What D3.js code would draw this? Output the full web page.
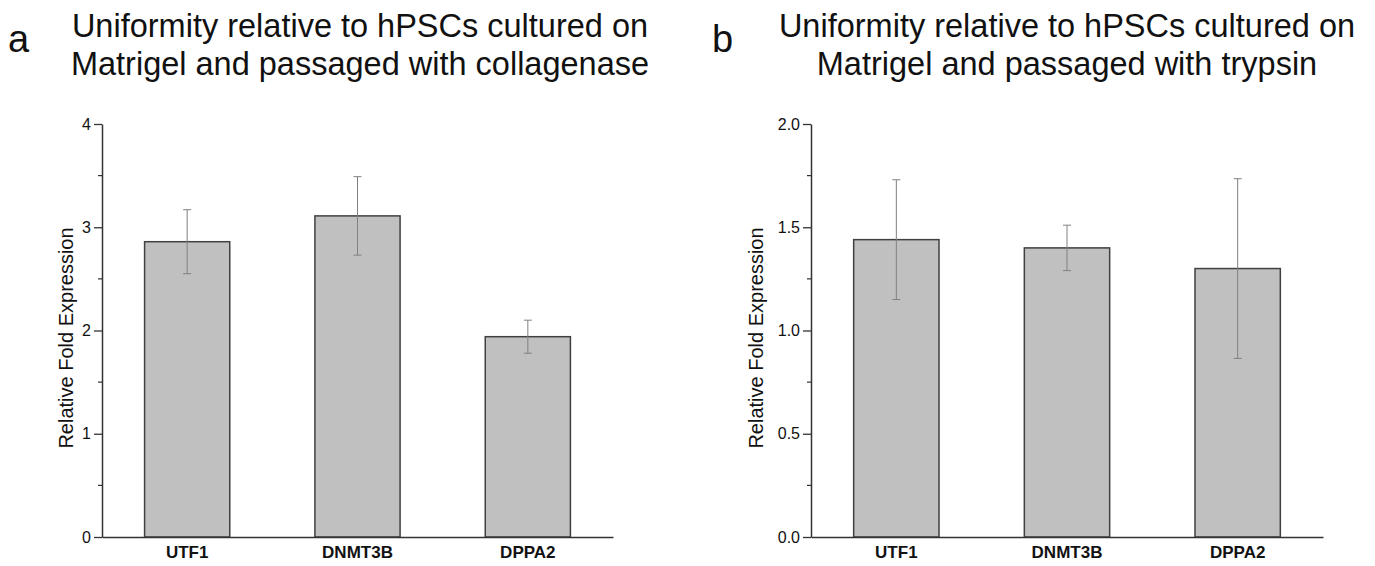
<!DOCTYPE html>
<html>
<head>
<meta charset="utf-8">
<script src="https://cdn.jsdelivr.net/npm/d3@7"></script>
<style>
  body { margin: 0; background: #fff; }
  text { font-family: "Liberation Sans", Arial, sans-serif; }
</style>
</head>
<body>
<div id="canvas"></div>
<script>
// data
var genes = ["UTF1", "DNMT3B", "DPPA2"];
var meanA = [2.86, 3.11, 1.94];
var errA = [0.31, 0.38, 0.16];
var meanB = [1.44, 1.40, 1.30];
var errB = [0.29, 0.11, 0.435];
var ticksA = [0, 1, 2, 3, 4];
var minorA = [0.5, 1.5, 2.5, 3.5];
var ticksB = [0, 0.5, 1.0, 1.5, 2.0];
var minorB = [0.25, 0.75, 1.25, 1.75];
var titleA = ["Uniformity relative to hPSCs cultured on", "Matrigel and passaged with collagenase"];
var titleB = ["Uniformity relative to hPSCs cultured on", "Matrigel and passaged with trypsin"];

var svg = d3.select("#canvas").append("svg")
    .attr("width", 1375).attr("height", 566);

function panel(opt) {
    var x = d3.scaleBand().domain(genes).range([opt.left, opt.right])
        .paddingInner(0.5).paddingOuter(0.25);
    var y = d3.scaleLinear().domain([0, opt.max]).range([537, 124]);
    var g = svg.append("g");

    // panel letter + title
    g.append("text").text(opt.letter)
        .attr("x", opt.letterX).attr("y", 52)
        .style("font-size", "38px").style("fill", "#111");
    g.selectAll(".title").data(opt.title).enter().append("text")
        .text(function(d){ return d; })
        .attr("x", opt.titleX)
        .attr("y", function(d, i){ return 37 + i * 38; })
        .attr("text-anchor", "middle")
        .style("font-size", "32.5px").style("fill", "#111");

    // y axis
    var yaxis = d3.axisLeft(y).tickValues(opt.ticks).tickFormat(opt.fmt)
        .tickSize(8).tickSizeOuter(0).tickPadding(3);
    var ya = g.append("g").attr("transform", "translate(" + opt.left + ",0)").call(yaxis);
    ya.select(".domain").attr("stroke", "#333").attr("stroke-width", 1.5);
    ya.selectAll(".tick line").attr("stroke", "#333").attr("stroke-width", 1.3);
    ya.selectAll(".tick text").style("font-size", "16px").style("fill", "#111")
        .style("font-family", "Liberation Sans, Arial, sans-serif");
    g.selectAll(".minor").data(opt.minor).enter().append("line")
        .attr("x1", opt.left - 4).attr("x2", opt.left)
        .attr("y1", function(d){ return y(d); }).attr("y2", function(d){ return y(d); })
        .attr("stroke", "#333").attr("stroke-width", 1.2);

    g.append("text").text("Relative Fold Expression")
        .attr("transform", "translate(" + (opt.left - opt.labelOff) + ",338) rotate(-90)")
        .attr("text-anchor", "middle")
        .style("font-size", "20px").style("fill", "#111");

    // bars
    g.selectAll(".bar").data(opt.mean).enter().append("rect")
        .attr("x", function(d, i){ return x(genes[i]); })
        .attr("y", function(d){ return y(d); })
        .attr("width", x.bandwidth())
        .attr("height", function(d){ return y(0) - y(d); })
        .attr("fill", "#c0c0c0").attr("stroke", "#404040").attr("stroke-width", 1.5);

    // error bars
    var eb = g.selectAll(".err").data(opt.mean).enter().append("g")
        .attr("transform", function(d, i){ return "translate(" + (x(genes[i]) + x.bandwidth() / 2) + ",0)"; });
    eb.append("line")
        .attr("y1", function(d, i){ return y(d + opt.err[i]); })
        .attr("y2", function(d, i){ return y(d - opt.err[i]); })
        .attr("stroke", "#808080").attr("stroke-width", 1);
    eb.append("line").attr("x1", -4).attr("x2", 4)
        .attr("y1", function(d, i){ return y(d + opt.err[i]); })
        .attr("y2", function(d, i){ return y(d + opt.err[i]); })
        .attr("stroke", "#808080").attr("stroke-width", 1);
    eb.append("line").attr("x1", -4).attr("x2", 4)
        .attr("y1", function(d, i){ return y(d - opt.err[i]); })
        .attr("y2", function(d, i){ return y(d - opt.err[i]); })
        .attr("stroke", "#808080").attr("stroke-width", 1);

    // x axis
    var xaxis = d3.axisBottom(x).tickSize(0).tickSizeOuter(0).tickPadding(9);
    var xa = g.append("g").attr("transform", "translate(0," + y(0) + ")").call(xaxis);
    xa.select(".domain").attr("stroke", "#333").attr("stroke-width", 1.5);
    xa.selectAll(".tick text").style("font-size", "17px").style("font-weight", "bold")
        .style("fill", "#111").style("font-family", "Liberation Sans, Arial, sans-serif");
}

panel({left: 102, right: 613, max: 4, mean: meanA, err: errA, ticks: ticksA, minor: minorA,
       fmt: d3.format("d"), letter: "a", letterX: 8, title: titleA, titleX: 360, labelOff: 29});
panel({left: 811, right: 1323, max: 2, mean: meanB, err: errB, ticks: ticksB, minor: minorB,
       fmt: d3.format(".1f"), letter: "b", letterX: 712, title: titleB, titleX: 1067, labelOff: 48});
</script>
</body>
</html>
